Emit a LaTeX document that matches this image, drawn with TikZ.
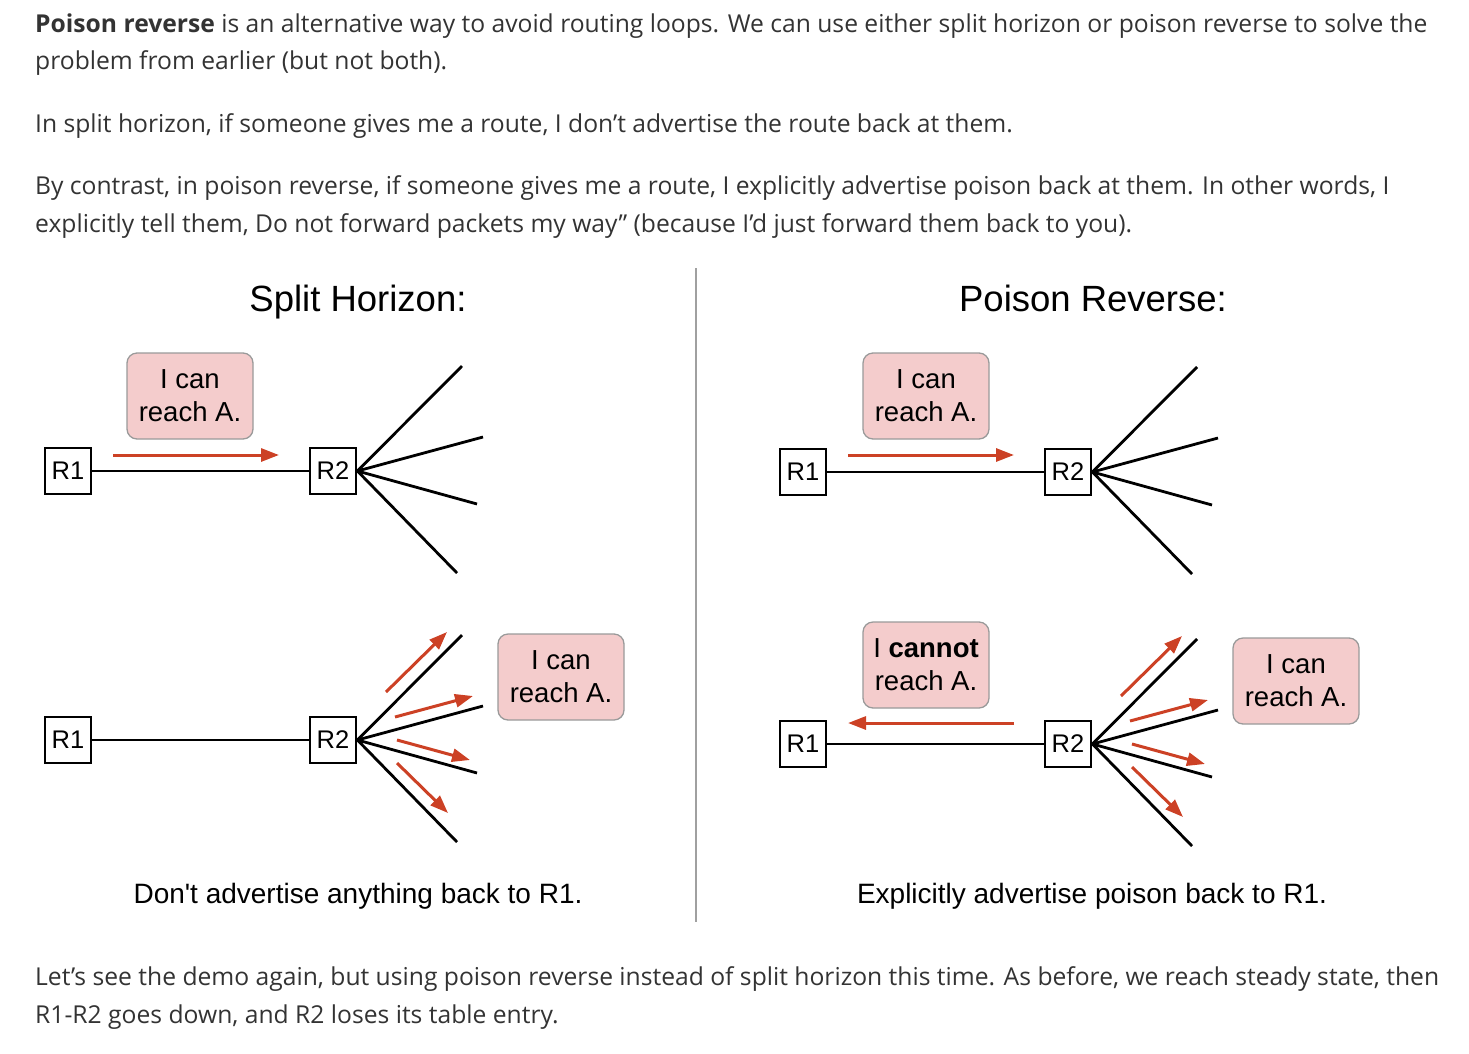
\documentclass[tikz,border=0pt]{standalone}
\usepackage{fontspec}
\setmainfont{Open Sans}
\newfontfamily\figfont{Liberation Sans}
\usetikzlibrary{arrows.meta,calc}

\definecolor{bodytext}{HTML}{333333}
\definecolor{advred}{HTML}{CC4125}
\definecolor{bubblefill}{HTML}{F4CCCC}
\definecolor{bubbleline}{HTML}{9A9A9A}
\definecolor{rulegray}{HTML}{A0A0A0}

\begin{document}
\begin{tikzpicture}[x=1pt,y=-1pt,
  para/.style={anchor=base west,inner sep=0pt,text=bodytext,font=\fontsize{24.65}{38}\selectfont},
  heading/.style={anchor=base,inner sep=0pt,font=\figfont\fontsize{36.5}{40}\selectfont},
  caption/.style={anchor=base,inner sep=0pt,font=\figfont\fontsize{28}{30}\selectfont},
  router/.style={draw,line width=2.8pt,minimum size=46pt,inner sep=0pt,font=\figfont\fontsize{25.5}{26}\selectfont},
  bubble/.style={draw=bubbleline,fill=bubblefill,line width=1.3pt,rounded corners=10pt,
    minimum width=126pt,minimum height=86pt,inner sep=0pt,align=center,font=\figfont\fontsize{27.5}{33}\selectfont},
  link/.style={line width=2.8pt},
  adv/.style={advred,line width=3pt,-{Triangle[length=18pt,width=13pt]}}]
\useasboundingbox (0,0) rectangle (1469,1053);

% text above and below the figure
\node[para] (para1a) at (35,32) {\textbf{Poison reverse} is an alternative way to avoid routing loops. We can use either split horizon or poison reverse to solve the};
\node[para] (para1b) at (35,69) {problem from earlier (but not both).};
\node[para] (para2) at (35,132) {In split horizon, if someone gives me a route, I don’t advertise the route back at them.};
\node[para] (para3a) at (35,194) {By contrast, in poison reverse, if someone gives me a route, I explicitly advertise poison back at them. In other words, I};
\node[para] (para3b) at (35,232) {explicitly tell them, Do not forward packets my way” (because I’d just forward them back to you).};
\node[para] (para4a) at (35,985) {Let’s see the demo again, but using poison reverse instead of split horizon this time. As before, we reach steady state, then};
\node[para] (para4b) at (35,1023) {R1-R2 goes down, and R2 loses its table entry.};

% divider
\draw[rulegray,line width=1.5pt] (696,268) -- (696,922);

\node[heading] (splith) at (358,311) {Split Horizon:};
\node[heading] (poisonr) at (1093,311) {Poison Reverse:};

% routers
\node[router] (r1tl) at (68,471) {R1};
\node[router] (r2tl) at (333,471) {R2};
\node[router] (r1bl) at (68,740) {R1};
\node[router] (r2bl) at (333,740) {R2};
\node[router] (r1tr) at (803,472) {R1};
\node[router] (r2tr) at (1068,472) {R2};
\node[router] (r1br) at (803,744) {R1};
\node[router] (r2br) at (1068,744) {R2};

\draw[link] (r1tl) -- (r2tl);
\draw[link] (r1bl) -- (r2bl);
\draw[link] (r1tr) -- (r2tr);
\draw[link] (r1br) -- (r2br);

% fan of links out of R2
\foreach \r in {r2tl,r2tr,r2bl,r2br}
  \foreach \dx/\dy [count=\i] in {129/-105,150/-34,144/33,124/102}
    \draw[link] (\r.east) -- ($(\r)+(\dx,\dy)$) coordinate (\r-end\i);

% advertisements
\draw[adv] ($(r1tl)+(45,-16)$) coordinate (advtl) -- ($(r1tl)+(211,-16)$);
\draw[adv] ($(r1tr)+(45,-17)$) coordinate (advtr) -- ($(r1tr)+(211,-17)$);
\draw[adv] ($(r1br)+(211,-21)$) coordinate (advbr) -- ($(r1br)+(45,-21)$);
\foreach \r in {r2bl,r2br}
  \foreach \ax/\ay/\bx/\by in {53/-48/114/-108,62/-23/140/-44,64/0/137/20,64/23/115/73}
    \draw[adv] ($(\r)+(\ax,\ay)$) -- ($(\r)+(\bx,\by)$);

\node[bubble] (msgtl) at (190,396) {I can\\reach A.};
\node[bubble] (msgtr) at (926,396) {I can\\reach A.};
\node[bubble] (msgbl) at (561,677) {I can\\reach A.};
\node[bubble] (msgbr) at (926,665) {I \textbf{cannot}\\reach A.};
\node[bubble] (msgbrr) at (1296,681) {I can\\reach A.};

\node[caption] (captl) at (358,903) {Don\textquotesingle t advertise anything back to R1.};
\node[caption] (captr) at (1092,903) {Explicitly advertise poison back to R1.};
\end{tikzpicture}
\end{document}
